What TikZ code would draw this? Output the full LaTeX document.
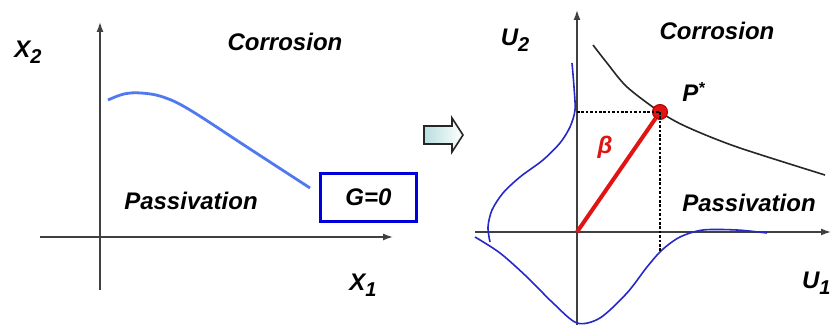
\documentclass[tikz,border=0pt]{standalone}
\usepackage{fontspec}
\setmainfont{Liberation Sans}
\usetikzlibrary{arrows.meta}

\definecolor{lineblue}{RGB}{80,120,240}
\definecolor{densblue}{RGB}{40,40,200}
\definecolor{boxblue}{RGB}{0,0,220}
\definecolor{pred}{RGB}{225,20,20}

\begin{document}
\begin{tikzpicture}[
  x=0.5pt, y=-0.5pt,
  font=\fontsize{12}{14}\selectfont\bfseries\itshape,
  axis/.style={draw=black!75, line width=0.7pt, -{Latex[length=5pt,width=3.5pt]}},
  lbl/.style={inner sep=0pt},
  limit/.style={draw=black!85, line width=0.8pt},
  dens/.style={draw=densblue, line width=0.8pt},
  proj/.style={line width=1.4pt, dash pattern=on 1.3pt off 0.9pt},
  blockarr/.style={draw=black!85, line width=0.8pt, line join=miter,
    left color={rgb,255:red,185;green,222;blue,222}, right color=white}
]
\useasboundingbox (0,0) rectangle (832,325);

% left: physical space
\coordinate (xl0) at (40,237);
\coordinate (xl1) at (393,237);
\coordinate (yl0) at (100,290);
\coordinate (yl1) at (100,22);
\draw[axis] (xl0) -- (xl1);
\draw[axis] (yl0) -- (yl1);
\draw[lineblue, line width=1.4pt] plot[smooth, tension=0.6] coordinates
  {(108,100) (124,94) (141,93) (163,97) (190,110) (250,149) (310,188)};
\node[lbl] (xtwo) at (28,52) {X\raisebox{-0.45ex}{\fontsize{10}{12}\selectfont 2}};
\node[lbl] (xone) at (363,285) {X\raisebox{-0.45ex}{\fontsize{10}{12}\selectfont 1}};
\node[lbl] (corrL) at (285,42) {Corrosion};
\node[lbl] (passL) at (191,201) {Passivation};
\node[draw=boxblue, line width=1.5pt, minimum width=48pt, minimum height=24pt,
  inner sep=0pt] (gbox) at (368.5,197.5) {G=0};

% transformation
\draw[blockarr] (424,126) -- (452,126) -- (452,118) -- (463,135)
  -- (452,152) -- (452,144) -- (424,144) -- cycle;

% right: standard normal space
\coordinate (ur) at (577,232);
\coordinate (xr0) at (475,232);
\coordinate (xr1) at (831,232);
\coordinate (yr0) at (577,325);
\coordinate (yr1) at (577,10);
\draw[axis] (xr0) -- (xr1);
\draw[axis] (yr0) -- (yr1);
\draw[limit] plot[smooth] coordinates
  {(593,45) (607,63) (627,87) (660,112) (687,127) (737,147) (825,175)};
\draw[dens] plot[smooth] coordinates
  {(572,63) (574,87) (575,110) (570,127) (560,143) (543,160) (520,177)
   (503,193) (492,210) (488,227) (490,242)};
\draw[dens] plot[smooth] coordinates
  {(475,237) (500,253) (527,277) (553,303) (577,323) (600,318) (627,293)
   (647,267) (662,250) (680,237) (703,230) (737,230) (767,233)};
\node[circle, fill=pred, draw=red!70!black, line width=0.5pt, minimum size=7.5pt,
  inner sep=0pt] (pstar) at (660,112) {};
\coordinate (pu2) at (577,112);
\coordinate (pu1) at (660,251);
\draw[proj] (pu2) -- (pstar.center);
\draw[proj] (pstar.center) -- (pu1);
\draw[pred, line width=2pt] (ur) -- (pstar);
\node[pred, lbl] (beta) at (605,147) {β};
\node[lbl] (plabel) at (694,92) {P\textsuperscript{*}};
\node[lbl] (utwo) at (515,40) {U\raisebox{-0.45ex}{\fontsize{10}{12}\selectfont 2}};
\node[lbl, anchor=east] (uone) at (831,283) {U\raisebox{-0.45ex}{\fontsize{10}{12}\selectfont 1}};
\node[lbl] (corrR) at (717,31) {Corrosion};
\node[lbl] (passR) at (749,203) {Passivation};
\end{tikzpicture}
\end{document}
